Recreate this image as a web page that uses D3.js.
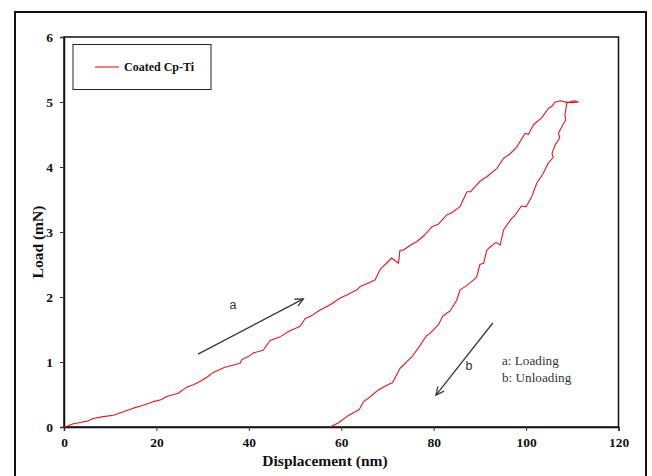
<!DOCTYPE html>
<html>
<head>
<meta charset="utf-8">
<script src="https://cdn.jsdelivr.net/npm/d3@7"></script>
<style>
  body { margin: 0; background: #fff; }
  svg { display: block; }
</style>
</head>
<body>
<div id="chart"></div>
<script>
// loading branch (displacement nm, load mN)
var loadX = [0, 0.6, 2, 3.5, 5, 6.3, 8.5, 10.7, 13, 15, 17, 19.3, 21, 22.2, 24.7, 26.5, 28, 29.4, 31, 32.3,
  34.8, 36.5, 38.1, 38.5, 40, 41, 43.1, 44.6, 46.8, 48.9, 50.5, 51.1, 52.2, 53.5, 55.4, 57.6, 59.7, 61.2,
  63.4, 64.1, 66, 67.3, 68.4, 70.9, 72.4, 72.7, 73.4, 75, 76.3, 78, 79.6, 81, 82.8, 84, 85.7, 87.2, 88,
  90, 91.5, 93.7, 95.1, 96.5, 98, 99.8, 100.5, 101.6, 103.4, 104.8, 105.5, 106.3];
var loadY = [0, 0.01, 0.05, 0.07, 0.09, 0.13, 0.16, 0.18, 0.24, 0.29, 0.33, 0.39, 0.42, 0.47, 0.52, 0.61, 0.65, 0.70, 0.77, 0.84,
  0.92, 0.95, 0.98, 1.04, 1.09, 1.14, 1.18, 1.33, 1.39, 1.48, 1.53, 1.55, 1.67, 1.71, 1.80, 1.88, 1.98, 2.03,
  2.11, 2.16, 2.22, 2.26, 2.42, 2.60, 2.52, 2.72, 2.72, 2.80, 2.85, 2.95, 3.08, 3.12, 3.26, 3.30, 3.39, 3.62, 3.62,
  3.78, 3.85, 3.98, 4.13, 4.20, 4.31, 4.52, 4.50, 4.65, 4.76, 4.90, 4.93, 5.0];

// hold at max load
var holdX = [107.5, 109, 110.5, 111.3, 110, 108.8];
var holdY = [5.02, 4.99, 5.02, 5.0, 4.99, 5.0];

// unloading branch
var unloadX = [108.8, 108.4, 108.6, 108.1, 107.0, 107.3, 106.3, 105.6, 105.9, 104.8, 103.7, 102.3, 101.2, 100.0,
  99.0, 97.5, 96.9, 95.1, 94.4, 93.5, 92.2, 91.5, 90.8, 90.0, 89.3, 88.6, 86.8, 85.7, 85.0, 83.5, 83.2, 82,
  81.0, 79.2, 78.4, 77.1, 75.3, 74.7, 72.7, 71.1, 70.6, 68.0, 66, 64.8, 63.9, 61.2, 59.5, 57.6];
var unloadY = [4.98, 4.80, 4.72, 4.67, 4.52, 4.45, 4.34, 4.21, 4.15, 4.06, 3.90, 3.75, 3.54, 3.39,
  3.40, 3.25, 3.21, 3.03, 2.80, 2.84, 2.77, 2.72, 2.52, 2.50, 2.31, 2.26, 2.16, 2.11, 1.95, 1.78, 1.77, 1.71,
  1.57, 1.44, 1.40, 1.26, 1.08, 1.04, 0.90, 0.68, 0.67, 0.57, 0.45, 0.39, 0.27, 0.16, 0.07, 0.0];

var xTicks = [0, 20, 40, 60, 80, 100, 120];
var yTicks = [0, 1, 2, 3, 4, 5, 6];

var width = 652, height = 476;
var margin = {left: 64, top: 37, right: 33, bottom: 49};
var serif = "'Liberation Serif', 'Times New Roman', serif";
var sans = "'Liberation Sans', Arial, sans-serif";

var svg = d3.select("#chart").append("svg")
  .attr("width", width)
  .attr("height", height);

// outer frame
svg.append("rect")
  .attr("x", 15).attr("y", 12)
  .attr("width", 631).attr("height", 470)
  .attr("fill", "none")
  .attr("stroke", "#111")
  .attr("stroke-width", 2);

var x = d3.scaleLinear().domain([0, 120]).range([margin.left, width - margin.right - 0.5]);
var y = d3.scaleLinear().domain([0, 6]).range([height - margin.bottom, margin.top]);

// plot box
svg.append("rect")
  .attr("x", x(0)).attr("y", y(6))
  .attr("width", x(120) - x(0)).attr("height", y(0) - y(6))
  .attr("fill", "none")
  .attr("stroke", "#111")
  .attr("stroke-width", 1.5);

var xAxis = svg.append("g")
  .attr("transform", "translate(0," + y(0) + ")")
  .call(d3.axisBottom(x).tickValues(xTicks).tickFormat(d3.format("d")).tickSize(4).tickPadding(6));
var yAxis = svg.append("g")
  .attr("transform", "translate(" + x(0) + ",0)")
  .call(d3.axisLeft(y).tickValues(yTicks).tickFormat(d3.format("d")).tickSize(4).tickPadding(7));

[xAxis, yAxis].forEach(function(g) {
  g.select(".domain").attr("stroke", "#111").attr("stroke-width", 1.5);
  g.selectAll(".tick line").attr("stroke", "#333");
  g.selectAll("text")
    .attr("fill", "#111")
    .style("font-family", serif)
    .style("font-weight", "bold")
    .style("font-size", "13.5px");
});

// axis titles
svg.append("text")
  .attr("x", 325)
  .attr("y", 466)
  .attr("text-anchor", "middle")
  .style("font-family", serif)
  .style("font-weight", "bold")
  .style("font-size", "15.5px")
  .attr("fill", "#111")
  .text("Displacement (nm)");

svg.append("text")
  .attr("transform", "translate(43,242) rotate(-90)")
  .attr("text-anchor", "middle")
  .style("font-family", serif)
  .style("font-weight", "bold")
  .style("font-size", "15.5px")
  .attr("fill", "#111")
  .text("Load (mN)");

// curve
var pts = [];
loadX.forEach((d, i) => pts.push([d, loadY[i]]));
holdX.forEach((d, i) => pts.push([d, holdY[i]]));
unloadX.forEach((d, i) => pts.push([d, unloadY[i]]));

var line = d3.line().x(d => x(d[0])).y(d => y(d[1]));
svg.append("path")
  .datum(pts)
  .attr("d", line)
  .attr("fill", "none")
  .attr("stroke", "#e8141c")
  .attr("stroke-width", 1.1)
  .attr("stroke-linejoin", "round");

// legend
var leg = svg.append("g");
leg.append("rect")
  .attr("x", 73).attr("y", 44.5)
  .attr("width", 138).attr("height", 45)
  .attr("fill", "#fff")
  .attr("stroke", "#222")
  .attr("stroke-width", 1);
leg.append("line")
  .attr("x1", 95).attr("x2", 119)
  .attr("y1", 67).attr("y2", 67)
  .attr("stroke", "#e8141c")
  .attr("stroke-width", 1.1);
leg.append("text")
  .attr("x", 124).attr("y", 71)
  .style("font-family", serif)
  .style("font-weight", "bold")
  .style("font-size", "12px")
  .attr("fill", "#111")
  .text("Coated Cp-Ti");

// arrows
function arrow(x1, y1, x2, y2) {
  var len = 9, spread = 0.45;
  var g = svg.append("g").attr("stroke", "#3a3a3a").attr("stroke-width", 1.3).attr("fill", "none");
  g.append("line")
    .attr("x1", x(x1)).attr("y1", y(y1))
    .attr("x2", x(x2)).attr("y2", y(y2));
  var hx = x(x2), hy = y(y2);
  var a1 = Math.atan2(y(y2) - y(y1), x(x2) - x(x1));
  g.append("path")
    .attr("d", "M" + (hx - len * Math.cos(a1 - spread)) + "," + (hy - len * Math.sin(a1 - spread)) +
      "L" + hx + "," + hy +
      "L" + (hx - len * Math.cos(a1 + spread)) + "," + (hy - len * Math.sin(a1 + spread)));
}
// a: loading arrow, b: unloading arrow (data coordinates)
arrow(29, 1.12, 51.8, 1.97);
arrow(92.8, 1.6, 80.5, 0.49);

svg.append("text").attr("x", 233).attr("y", 309)
  .attr("text-anchor", "middle")
  .style("font-family", sans).style("font-size", "12.5px").attr("fill", "#333")
  .text("a");
svg.append("text").attr("x", 469).attr("y", 370)
  .attr("text-anchor", "middle")
  .style("font-family", sans).style("font-size", "12.5px").attr("fill", "#333")
  .text("b");

svg.append("text").attr("x", 502).attr("y", 365)
  .style("font-family", serif).style("font-size", "13.2px").attr("fill", "#333")
  .text("a: Loading");
svg.append("text").attr("x", 502).attr("y", 381.5)
  .style("font-family", serif).style("font-size", "13.2px").attr("fill", "#333")
  .text("b: Unloading");
</script>
</body>
</html>
